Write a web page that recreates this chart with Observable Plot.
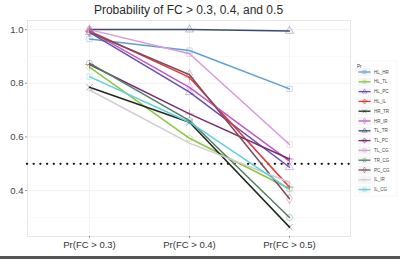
<!DOCTYPE html>
<html><head><meta charset="utf-8">
<script src="https://cdn.jsdelivr.net/npm/d3@7"></script>
<script src="https://cdn.jsdelivr.net/npm/@observablehq/plot@0.6"></script>
<style>
body{margin:0;background:#fff;}
#wrap{position:relative;width:400px;height:259px;overflow:hidden;font-family:"Liberation Sans",Arial,sans-serif;}
#title{position:absolute;left:27px;width:323px;top:4px;text-align:center;font-size:12px;color:#2a2a2a;line-height:13px;}
#legend{position:absolute;left:0;top:0;}
#frame{position:absolute;left:0;top:256px;width:400px;height:3px;background:#555;}
</style></head><body>
<div id="wrap"><div id="chart"></div><div id="title">Probability of FC &gt; 0.3, 0.4, and 0.5</div><div id="frame"></div></div>
<script>
const categories = ["Pr(FC > 0.3)", "Pr(FC > 0.4)", "Pr(FC > 0.5)"];
const pairs = ["HL_HR","HL_TL","HL_PC","HL_IL","HR_TR","HR_IR","TL_TR","TL_PC","TL_CG","TR_CG","PC_CG","IL_IR","IL_CG"];
const colors = ["#5a9fd4","#8cc63f","#6a4bb0","#e0393e","#1e2a1e","#c05ac8","#3c4a6e","#7a2c6e","#d89ad8","#4f7f64","#7e4a5c","#d4cbd2","#5fd0dc"];
const pr03 = [0.965,0.86,0.99,0.995,0.785,0.995,1.0,0.87,1.0,0.875,0.99,0.775,0.825];
const pr04 = [0.922,0.595,0.767,0.822,0.655,0.785,1.0,0.686,0.91,0.661,0.832,0.577,0.655];
const pr05 = [0.779,0.407,0.487,0.413,0.264,0.51,0.995,0.518,0.572,0.30,0.37,0.431,0.405];
const yTicks = [0.4,0.6,0.8,1.0];
const minorTicks = [0.3,0.5,0.7,0.9];
const threshold = 0.5;
const legendTitle = "Pr";
const symbols = ["square","circle","triangle","plus","times","diamond","triangle","plus","square","circle","diamond","times","square"];

const rows = [];
pairs.forEach((p,i)=>{
  rows.push({pair:p, cat:categories[0], value:pr03[i]});
  rows.push({pair:p, cat:categories[1], value:pr04[i]});
  rows.push({pair:p, cat:categories[2], value:pr05[i]});
});

const chart = Plot.plot({
  width: 400, height: 259,
  marginLeft: 27, marginRight: 50, marginTop: 20, marginBottom: 23,
  style: {fontFamily: '"Liberation Sans", Arial, sans-serif', fontSize: "9px", color: "#444", background: "#fff"},
  x: {type: "point", domain: categories, padding: 0.6, label: null},
  y: {domain: [0.229, 1.034], ticks: yTicks, tickFormat: d3.format(".1f"), label: null},
  color: {domain: pairs, range: colors},
  symbol: {domain: pairs, range: symbols},
  marks: [
    Plot.frame({stroke: "#e6e6e6"}),
    Plot.gridY(minorTicks, {stroke: "#f5f5f5", strokeOpacity: 1, strokeWidth: 0.5}),
    Plot.gridY(yTicks, {stroke: "#ededed", strokeOpacity: 1, strokeWidth: 0.7}),
    Plot.gridX(categories, {stroke: "#ededed", strokeOpacity: 1, strokeWidth: 0.7}),
    Plot.axisY(yTicks, {tickSize: 2, tickPadding: 2, tickFormat: d3.format(".1f"), stroke: "#999", fill: "#444", fontSize: 9.5}),
    Plot.axisX(categories, {tickSize: 2, tickPadding: 3, stroke: "#999", fill: "#333", fontSize: 9.5}),
    Plot.ruleY([threshold], {stroke: "#111", strokeWidth: 2.3, strokeDasharray: "0,6.7", strokeLinecap: "round"}),
    Plot.line(rows, {x: "cat", y: "value", z: "pair", stroke: "pair", strokeWidth: 1.5}),
    Plot.dot(rows, {x: "cat", y: "value", stroke: "pair", symbol: "pair", r: 3, strokeWidth: 1, strokeOpacity: 0.35, fill: "none"})
  ]
});
document.getElementById("chart").appendChild(chart);

// legend
const lg = d3.select("#wrap").append("svg").attr("id","legend").attr("width",400).attr("height",259);
lg.append("rect").attr("x",355).attr("y",61).attr("width",42).attr("height",135).attr("fill","#fff").attr("stroke","#eee").attr("stroke-width",0.5);
lg.append("text").attr("x",357).attr("y",68).text(legendTitle).attr("font-size",4.5).attr("fill","#333").attr("font-family","Liberation Sans, Arial");
const d3sym = {square:d3.symbolSquare,circle:d3.symbolCircle,triangle:d3.symbolTriangle,plus:d3.symbolCross,times:d3.symbolX,diamond:d3.symbolDiamond};
pairs.forEach((p,i)=>{
  const y = 72 + i*9.8;
  const g = lg.append("g");
  g.append("rect").attr("x",358).attr("y",y-4).attr("width",13).attr("height",8).attr("fill","#f6f6f6");
  g.append("line").attr("x1",358.5).attr("x2",370.5).attr("y1",y).attr("y2",y).attr("stroke",colors[i]).attr("stroke-width",1.3);
  g.append("path").attr("d",d3.symbol().type(d3sym[symbols[i]]).size(10)()).attr("transform",`translate(364.5,${y})`).attr("fill","none").attr("stroke",colors[i]).attr("stroke-opacity",0.6).attr("stroke-width",0.8);
  g.append("text").attr("x",374).attr("y",y+1.6).text(p).attr("font-size",4.5).attr("fill","#444").attr("font-family","Liberation Sans, Arial");
});
</script>
</body></html>
